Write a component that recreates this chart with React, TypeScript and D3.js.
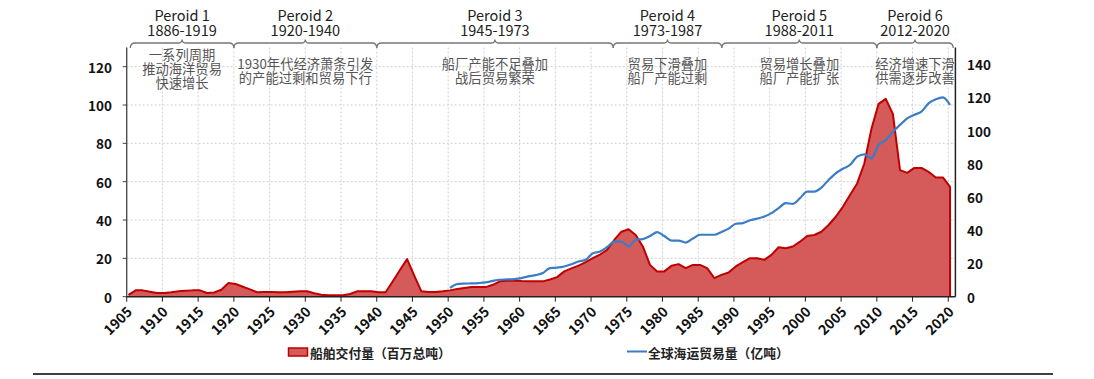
import React from "react";
import * as d3 from "d3";

// ---------- data ----------
const redStartYear = 1905;
const shipDeliveries = [
  1.0, 3.3, 3.3, 2.6, 1.9, 1.9, 2.3, 2.8, 3.1, 3.3, // 1905-1914
  3.3, 1.9, 2.2, 3.6, 7.1, 6.6, 5.2, 3.8, 2.3, 2.4, // 1915-1924
  2.4, 2.3, 2.3, 2.6, 2.8, 2.8, 1.8, 1.0, 0.8, 0.7, // 1925-1934
  0.8, 1.4, 2.8, 2.8, 2.8, 2.3, 2.3, 8.1, 13.9, 19.6, // 1935-1944
  11.0, 2.8, 2.5, 2.4, 2.8, 3.3, 4.0, 4.5, 5.0, 5.0, // 1945-1954
  5.0, 6.2, 8.0, 8.3, 8.5, 8.2, 8.0, 8.0, 8.0, 9.0, // 1955-1964
  10.2, 13.2, 14.8, 16.2, 18.0, 20.1, 22.0, 24.4, 29.6, 33.9, // 1965-1974
  35.2, 32.2, 26.2, 16.6, 13.2, 13.2, 16.1, 17.0, 14.9, 16.6, // 1975-1984
  16.6, 14.9, 9.7, 11.4, 12.6, 15.8, 18.0, 20.1, 20.1, 19.2, // 1985-1994
  21.8, 25.8, 25.3, 26.2, 28.7, 31.7, 32.2, 33.9, 37.4, 41.7, // 1995-2004
  46.9, 53.0, 59.1, 69.5, 87.6, 100.6, 103.2, 95.4, 66.0, 64.6, // 2005-2014
  67.2, 67.2, 65.1, 62.2, 62.2, 57.3, // 2015-2020
];

const blueStartYear = 1950;
const seaborneTrade = [
  5.3, 7.6, 7.9, 8.0, 8.2, 8.6, 9.5, 10.2, 10.4, 10.6, // 1950-1959
  11.2, 12.2, 13.0, 14.2, 17.2, 17.5, 18.2, 19.5, 21.2, 22.2, // 1960-1969
  26.2, 27.2, 29.9, 33.2, 33.2, 30.2, 34.3, 34.7, 36.5, 38.9, // 1970-1979
  36.5, 33.8, 33.8, 32.6, 35.0, 37.3, 37.3, 37.3, 39.0, 41.0, // 1980-1989
  43.9, 44.3, 46.0, 47.0, 48.3, 50.3, 53.3, 56.3, 55.9, 59.3, // 1990-1999
  63.3, 63.3, 65.7, 70.3, 74.3, 77.0, 79.3, 84.3, 85.7, 83.3, // 2000-2009
  91.3, 94.3, 99.3, 103.4, 107.4, 109.5, 111.4, 116.4, 118.8, 120.0, // 2010-2019
  115.4, // 2020
];

const xTickYears = d3.range(1905, 2021, 5);
const leftTicks = [0, 20, 40, 60, 80, 100, 120];
const rightTicks = [0, 20, 40, 60, 80, 100, 120, 140];

const periodNames = ["Peroid 1", "Peroid 2", "Peroid 3", "Peroid 4", "Peroid 5", "Peroid 6"];
const periodRanges = ["1886-1919", "1920-1940", "1945-1973", "1973-1987", "1988-2011", "2012-2020"];
const periodSpans: [number, number][] = [
  [1905.5, 1920], [1920, 1940], [1940, 1973.1], [1973.1, 1988.3], [1988.3, 2010], [2010, 2020.7],
];
const periodNotes = [
  ["一系列周期", "推动海洋贸易", "快速增长"],
  ["1930年代经济萧条引发", "的产能过剩和贸易下行"],
  ["船厂产能不足叠加", "战后贸易繁荣"],
  ["贸易下滑叠加", "船厂产能过剩"],
  ["贸易增长叠加", "船厂产能扩张"],
  ["经济增速下滑", "供需逐步改善"],
];

const legendRed = "船舶交付量（百万总吨）";
const legendBlue = "全球海运贸易量（亿吨）";

// ---------- layout ----------
const W = 1094;
const H = 379;
const plotLeft = 126.7;
const plotRight = 955.4;
const plotTop = 47.5;
const plotBottom = 296.7;
const FONT = "'Noto Sans CJK SC', 'Noto Sans', sans-serif";
const POINT_OFFSET = 0.25;

export default function App() {
  const x = d3.scaleLinear().domain([1905, 2021]).range([plotLeft, plotRight]);
  const yL = d3.scaleLinear().domain([0, 130]).range([plotBottom, plotTop]);
  const yR = d3.scaleLinear().domain([0, 150]).range([plotBottom, plotTop]);

  const red = shipDeliveries.map((v, i) => ({ year: redStartYear + i, v }));
  const blue = seaborneTrade.map((v, i) => ({ year: blueStartYear + i, v }));

  const area = d3
    .area<{ year: number; v: number }>()
    .x((d) => x(d.year + POINT_OFFSET))
    .y0(yL(0))
    .y1((d) => yL(d.v));
  const redLine = d3
    .line<{ year: number; v: number }>()
    .x((d) => x(d.year + POINT_OFFSET))
    .y((d) => yL(d.v));
  const last = red[red.length - 1];
  const redOutline = redLine([...red, { year: last.year, v: 0 }]) || "";

  const blueLine = d3
    .line<{ year: number; v: number }>()
    .x((d) => x(d.year + POINT_OFFSET))
    .y((d) => yR(d.v))
    .curve(d3.curveMonotoneX);

  const brace = (x0: number, x1: number) => {
    const m = (x0 + x1) / 2;
    const yb = 48;
    const yl = 43;
    const yt = 39.5;
    const r = 5;
    return `M${x0},${yb} Q${x0},${yl} ${x0 + r},${yl} L${m - 4},${yl} Q${m},${yl} ${m},${yt} Q${m},${yl} ${m + 4},${yl} L${x1 - r},${yl} Q${x1},${yl} ${x1},${yb}`;
  };

  return (
    <div style={{ position: "absolute", left: 0, top: 0, width: W, height: H, background: "#fff" }}>
      <svg width={W} height={H} style={{ display: "block", fontFamily: FONT }}>
        <defs>
          <clipPath id="noteClip">
            <rect x={0} y={0} width={plotRight - 1} height={H} />
          </clipPath>
        </defs>

        {/* grid */}
        {xTickYears.map((yr) => (
          <line key={"gx" + yr} x1={x(yr)} x2={x(yr)} y1={plotTop} y2={plotBottom}
            stroke="#d0d0d0" strokeWidth={1} strokeDasharray="2,2" />
        ))}
        {leftTicks.filter((t) => t > 0).map((t) => (
          <line key={"gy" + t} x1={plotLeft} x2={plotRight} y1={yL(t)} y2={yL(t)}
            stroke="#d0d0d0" strokeWidth={1} strokeDasharray="2,2" />
        ))}

        {/* red area */}
        <path d={area(red) || ""} fill="#d55a5a" />
        <path d={redOutline} fill="none" stroke="#c00000" strokeWidth={2} strokeLinejoin="round" />

        {/* blue line */}
        <path d={blueLine(blue) || ""} fill="none" stroke="#3a7dc4" strokeWidth={2.2} strokeLinejoin="round" />

        {/* axes */}
        <line x1={plotLeft} x2={plotLeft} y1={plotTop} y2={plotBottom} stroke="#444" strokeWidth={1.3} />
        <line x1={plotRight} x2={plotRight} y1={plotTop} y2={plotBottom} stroke="#222" strokeWidth={1.5} />
        <line x1={plotLeft} x2={plotRight} y1={plotBottom} y2={plotBottom} stroke="#222" strokeWidth={1.5} />

        {leftTicks.map((t) => (
          <g key={"lt" + t}>
            <line x1={plotLeft - 4} x2={plotLeft} y1={yL(t)} y2={yL(t)} stroke="#444" strokeWidth={1} />
            <text x={112} y={yL(t)} textAnchor="end" dominantBaseline="central"
              fontSize={13.5} fontWeight={700} fill="#111">{t}</text>
          </g>
        ))}
        {rightTicks.map((t) => (
          <text key={"rt" + t} x={967} y={yR(t)} textAnchor="start" dominantBaseline="central"
            fontSize={13.5} fontWeight={700} fill="#111">{t}</text>
        ))}
        {xTickYears.map((yr) => (
          <g key={"xt" + yr}>
            <line x1={x(yr)} x2={x(yr)} y1={plotBottom} y2={plotBottom + 5} stroke="#222" strokeWidth={1} />
            <text transform={`translate(${x(yr) + 6.5},${plotBottom + 16}) rotate(-45)`} textAnchor="end"
              fontSize={14} fontWeight={700} fill="#111">{yr}</text>
          </g>
        ))}

        {/* periods */}
        {periodSpans.map(([a, b], i) => {
          const x0 = x(a);
          const x1 = x(b);
          const m = (x0 + x1) / 2;
          const notes = periodNotes[i];
          const first = notes.length === 3 ? 54.5 : 63.5;
          return (
            <g key={"p" + i}>
              <path d={brace(x0, x1)} fill="none" stroke="#777" strokeWidth={1.3} />
              <text x={m} y={20.5} textAnchor="middle" fontSize={14.5} fill="#222">{periodNames[i]}</text>
              <text x={m} y={35.5} textAnchor="middle" fontSize={14.5} fill="#222">{periodRanges[i]}</text>
              <g clipPath="url(#noteClip)">
                {notes.map((s, j) => (
                  <text key={j} x={m} y={first + j * 14.2} textAnchor="middle" dominantBaseline="central"
                    fontSize={13.3} fill="#555">{s}</text>
                ))}
              </g>
            </g>
          );
        })}

        {/* legend */}
        <rect x={288.5} y={348} width={19} height={8} fill="#d55a5a" stroke="#c00000" strokeWidth={1.5} />
        <text x={310} y={352} dominantBaseline="central" fontSize={12.8} fontWeight={700} fill="#222">{legendRed}</text>
        <line x1={627} x2={647} y1={351.5} y2={351.5} stroke="#3a7dc4" strokeWidth={2} />
        <text x={648} y={352} dominantBaseline="central" fontSize={12.8} fontWeight={700} fill="#222">{legendBlue}</text>

        {/* bottom rule */}
        <line x1={33} x2={1053} y1={374} y2={374} stroke="#000" strokeWidth={1.5} />
      </svg>
    </div>
  );
}
